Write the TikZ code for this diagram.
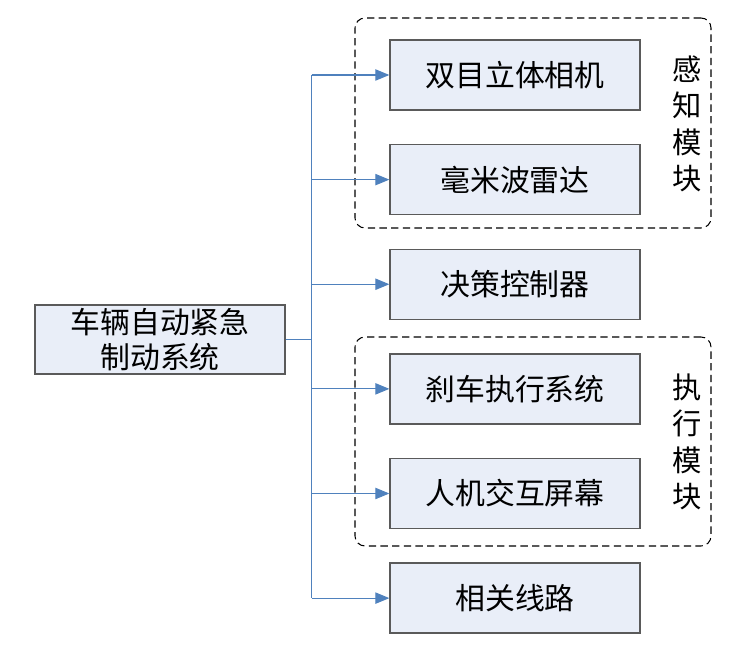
\documentclass[tikz,border=0pt]{standalone}
\usepackage{fontspec}
\setmainfont{Noto Sans CJK SC}
\usepackage{xcolor}
\usepackage{tikz}
\usetikzlibrary{arrows.meta,positioning,fit}

\definecolor{boxfill}{HTML}{E9EEF8}
\definecolor{boxdraw}{HTML}{5A5A5A}
\definecolor{linkblue}{HTML}{4F81BD}

\begin{document}
\begin{tikzpicture}[x=0.3mm, y=-0.3mm,
		arrow/.style = {draw=linkblue, line width=0.9pt, -{Triangle[length=4.2mm, width=3.4mm]}},
		link/.style = {draw=linkblue, line width=0.9pt},
		node distance=10mm]
		\tikzset{unit/.style={draw=boxdraw, line width=1.1pt, rectangle, fill=boxfill, inner sep=0pt, align=center, minimum width=75mm, minimum height=21mm, font=\fontsize{25.5}{29.5}\selectfont}}
		\tikzset{group/.style={draw=black, line width=0.9pt, dash pattern=on 2.2mm off 1.3mm, rounded corners=3mm, inner sep=0pt}}
		\tikzset{grouplabel/.style={align=center, inner sep=0pt, font=\fontsize{25}{31.2}\selectfont}}

		\useasboundingbox (0,0) rectangle (755,656);

		% main system
		\node[unit, minimum height=20.7mm] (sys) at (160,339.5) {车辆自动紧急\\制动系统};

		% parts
		\node[unit] (camera) at (515,75) {双目立体相机};
		\node[unit, below=of camera] (radar) {毫米波雷达};
		\node[unit, below=of radar] (ctrl) {决策控制器};
		\node[unit, below=of ctrl] (brake) {刹车执行系统};
		\node[unit, below=of brake] (hmi) {人机交互屏幕};
		\node[unit, below=of hmi] (wiring) {相关线路};

		% modules
		\node[group, fit={(355,18) (711,228)}] (sense) {};
		\node[grouplabel] (senselbl) at (687,124) {感\\知\\模\\块};

		\node[group, fit={(355,337) (711,546)}] (act) {};
		\node[grouplabel] (actlbl) at (687,442) {执\\行\\模\\块};

		% links
		\draw [link] (sys.east) -- ++(26,0) coordinate (jn);
		\draw [link] (jn |- camera.west) -- (jn |- wiring.west);
		\draw [arrow] (jn |- camera.west) -- (camera.west);
		\draw [arrow] (jn |- radar.west) -- (radar.west);
		\draw [arrow] (jn |- ctrl.west) -- (ctrl.west);
		\draw [arrow] (jn |- brake.west) -- (brake.west);
		\draw [arrow] (jn |- hmi.west) -- (hmi.west);
		\draw [arrow] (jn |- wiring.west) -- (wiring.west);

	\end{tikzpicture}
\end{document}
